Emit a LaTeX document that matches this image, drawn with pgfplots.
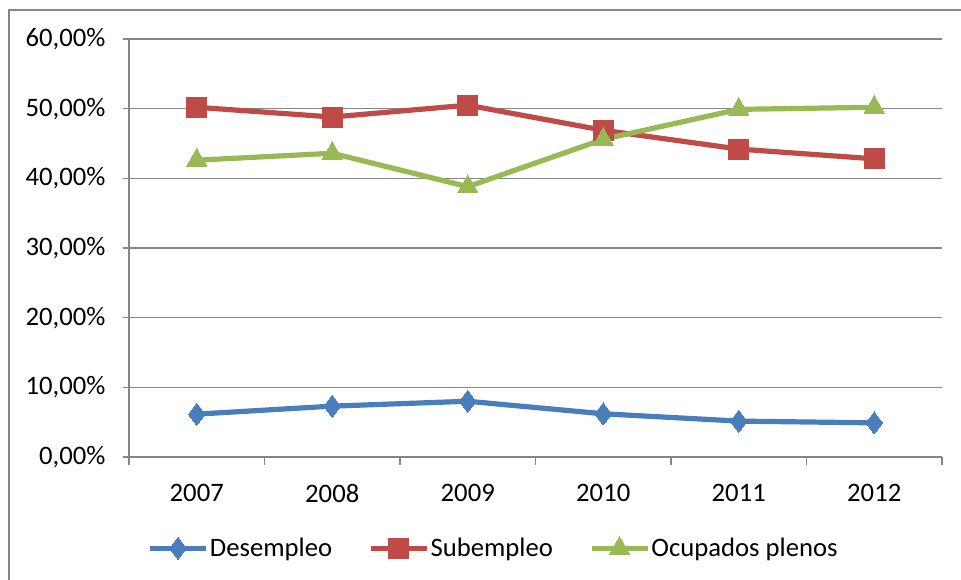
\documentclass[border=0pt]{standalone}
\usepackage{fontspec}
\setmainfont{Carlito}
\usepackage{pgfplots}
\pgfplotsset{compat=1.18}
\definecolor{cBlue}{HTML}{4A7EBB}
\definecolor{cRed}{HTML}{BE4B48}
\definecolor{cGreen}{HTML}{98B954}
\definecolor{cGrid}{HTML}{868686}
\begin{document}
\begin{tikzpicture}
\useasboundingbox (0,0) rectangle (720.75pt,435pt);
\draw[cGrid, line width=1.2pt] (6.75pt,-10pt) -- (6.75pt,427.5pt) -- (740pt,427.5pt);
\begin{axis}[
  at={(96.75pt,92.25pt)}, anchor=south west,
  scale only axis, width=609.75pt, height=313.5pt,
  font=\fontsize{20}{24}\selectfont,
  xmin=-0.5, xmax=5.5, ymin=0, ymax=60,
  axis x line*=bottom, axis y line*=left,
  axis line style={cGrid, line width=1.2pt},
  xtick={0,1,2,3,4,5},
  xticklabels={2007,2008,2009,2010,2011,2012},
  minor xtick={-0.5,0.5,1.5,2.5,3.5,4.5,5.5},
  major x tick style={draw=none},
  minor x tick style={cGrid, line width=1.2pt},
  minor tick length=6pt,
  ytick={0,10,20,30,40,50,60},
  yticklabels={{0,00\%},{10,00\%},{20,00\%},{30,00\%},{40,00\%},{50,00\%},{60,00\%}},
  major y tick style={cGrid, line width=1.2pt},
  major tick length=4.5pt,
  tick align=outside,
  ymajorgrids, major grid style={cGrid, line width=1.2pt},
  yticklabel style={anchor=east, inner sep=0pt, xshift=-13pt},
  xticklabel style={anchor=center, inner sep=0pt, yshift=-22.5pt},
  legend columns=3,
  legend style={at={(0.448,-0.218)}, anchor=center, draw=none, fill=none,
    font=\fontsize{20}{24}\selectfont,
    /tikz/every even column/.append style={column sep=26pt},
    nodes={inner sep=1pt}},
  legend image code/.code={\draw[mark repeat=2,mark phase=2] plot coordinates {(0pt,0pt)(21pt,0pt)(42pt,0pt)};},
  clip=false,
]
\addplot[cBlue, line width=3.9pt, mark=diamond*, mark size=8.3pt, mark options={solid, line width=0pt, fill=cBlue}]
  coordinates {(0,6.15)(1,7.3)(2,8.0)(3,6.2)(4,5.15)(5,4.9)};
\addlegendentry{Desempleo}
\addplot[cRed, line width=3.9pt, mark=square*, mark size=7.5pt, mark options={solid, line width=0pt, fill=cRed}]
  coordinates {(0,50.2)(1,48.8)(2,50.5)(3,46.9)(4,44.2)(5,42.8)};
\addlegendentry{Subempleo}
\addplot[cGreen, line width=3.9pt, mark=triangle*, mark size=8.8pt, mark options={solid, line width=0pt, fill=cGreen}]
  coordinates {(0,42.6)(1,43.6)(2,38.8)(3,45.6)(4,49.9)(5,50.2)};
\addlegendentry{Ocupados plenos}
\end{axis}
\end{tikzpicture}
\end{document}
